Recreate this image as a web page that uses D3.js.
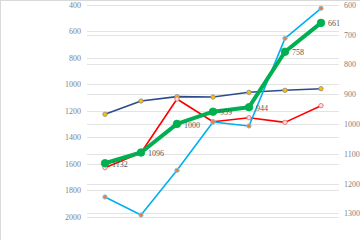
<!DOCTYPE html>
<html>
<head>
<meta charset="utf-8">
<script src="https://cdn.jsdelivr.net/npm/d3@7"></script>
<style>
  body { margin: 0; background: #fff; }
  svg { display: block; }
  .tick text, .lbl { font-family: "Liberation Serif", "DejaVu Serif", serif; font-size: 8px; }
</style>
</head>
<body>
<div id="chart-area"></div>
<script>
var categories = ["1", "2", "3", "4", "5", "6", "7"];
var navyValues = [1227, 1127, 1094, 1097, 1061, 1046, 1034];   // left axis
var redValues = [1630, 1517, 1112, 1283, 1253, 1288, 1162];    // left axis
var cyanValues = [1851, 1987, 1650, 1285, 1315, 654, 427];     // left axis
var greenValues = [1132, 1096, 1000, 959, 944, 758, 661];      // right axis
var leftTicks = [400, 600, 800, 1000, 1200, 1400, 1600, 1800, 2000];
var rightTicks = [600, 700, 800, 900, 1000, 1100, 1200, 1300];

var width = 360, height = 240;

var svg = d3.select("#chart-area")
  .append("svg")
    .attr("width", width)
    .attr("height", height);

svg.append("rect")
  .attr("x", 0.5).attr("y", 0.5)
  .attr("width", width + 20).attr("height", height + 20)
  .attr("fill", "#fff")
  .attr("stroke", "#d9d9d9");

var x = d3.scaleBand().domain(categories).range([87, 339]);
var yLeft = d3.scaleLinear().domain([400, 2000]).range([4.7, 216.7]);
var yRight = d3.scaleLinear().domain([600, 1300]).range([4.7, 213.3]);

var cx = (d, i) => x(categories[i]) + x.bandwidth() / 2;

// gridlines
svg.append("g").selectAll("line").data(leftTicks).enter().append("line")
  .attr("x1", 87).attr("x2", 339)
  .attr("y1", d => Math.round(yLeft(d)) + 0.5)
  .attr("y2", d => Math.round(yLeft(d)) + 0.5)
  .attr("stroke", "#e3e3e3");
svg.append("g").selectAll("line").data(rightTicks).enter().append("line")
  .attr("x1", 87).attr("x2", 339)
  .attr("y1", d => Math.round(yRight(d)) + 0.5)
  .attr("y2", d => Math.round(yRight(d)) + 0.5)
  .attr("stroke", "#e3e3e3");

// axes
var fmt = d3.format("d");
var leftAxis = d3.axisLeft(yLeft).tickValues(leftTicks).tickFormat(fmt).tickSize(0).tickPadding(0);
var rightAxis = d3.axisRight(yRight).tickValues(rightTicks).tickFormat(fmt).tickSize(0).tickPadding(0);

var gl = svg.append("g").attr("transform", "translate(81,0)").call(leftAxis);
var gr = svg.append("g").attr("transform", "translate(344,0)").call(rightAxis);
[gl, gr].forEach(g => {
  g.attr("font-family", null).attr("font-size", null).attr("fill", "#7f7f7f");
  g.select(".domain").remove();
  g.selectAll("text").attr("fill", "#7f7f7f");
});

function drawSeries(values, y, color, lw, r, mFill, mStroke) {
  var line = d3.line().x(cx).y(d => y(d));
  svg.append("path")
    .datum(values)
    .attr("d", line)
    .attr("fill", "none")
    .attr("stroke", color)
    .attr("stroke-width", lw)
    .attr("stroke-linejoin", "round");
  svg.append("g").selectAll("circle").data(values).enter().append("circle")
    .attr("cx", cx)
    .attr("cy", d => y(d))
    .attr("r", r)
    .attr("fill", mFill)
    .attr("stroke", mStroke)
    .attr("stroke-width", 0.8);
}

drawSeries(navyValues, yLeft, "#2c4b8a", 1.6, 2.2, "#ffc000", "#8c8c8c");
drawSeries(redValues, yLeft, "#ff0000", 1.6, 2.2, "#fbe0e0", "#e06060");
drawSeries(cyanValues, yLeft, "#00b0f0", 1.6, 2.2, "#ed7d31", "#7fc8f0");
drawSeries(greenValues, yRight, "#00b050", 4, 3.8, "#00b050", "#00b050");

// data labels on the green series
svg.append("g").selectAll("text").data(greenValues).enter().append("text")
  .attr("class", "lbl")
  .attr("x", (d, i) => cx(d, i) + 7)
  .attr("y", d => yRight(d))
  .attr("dy", "0.45em")
  .attr("fill", "#595959")
  .text(d => d);
</script>
</body>
</html>
